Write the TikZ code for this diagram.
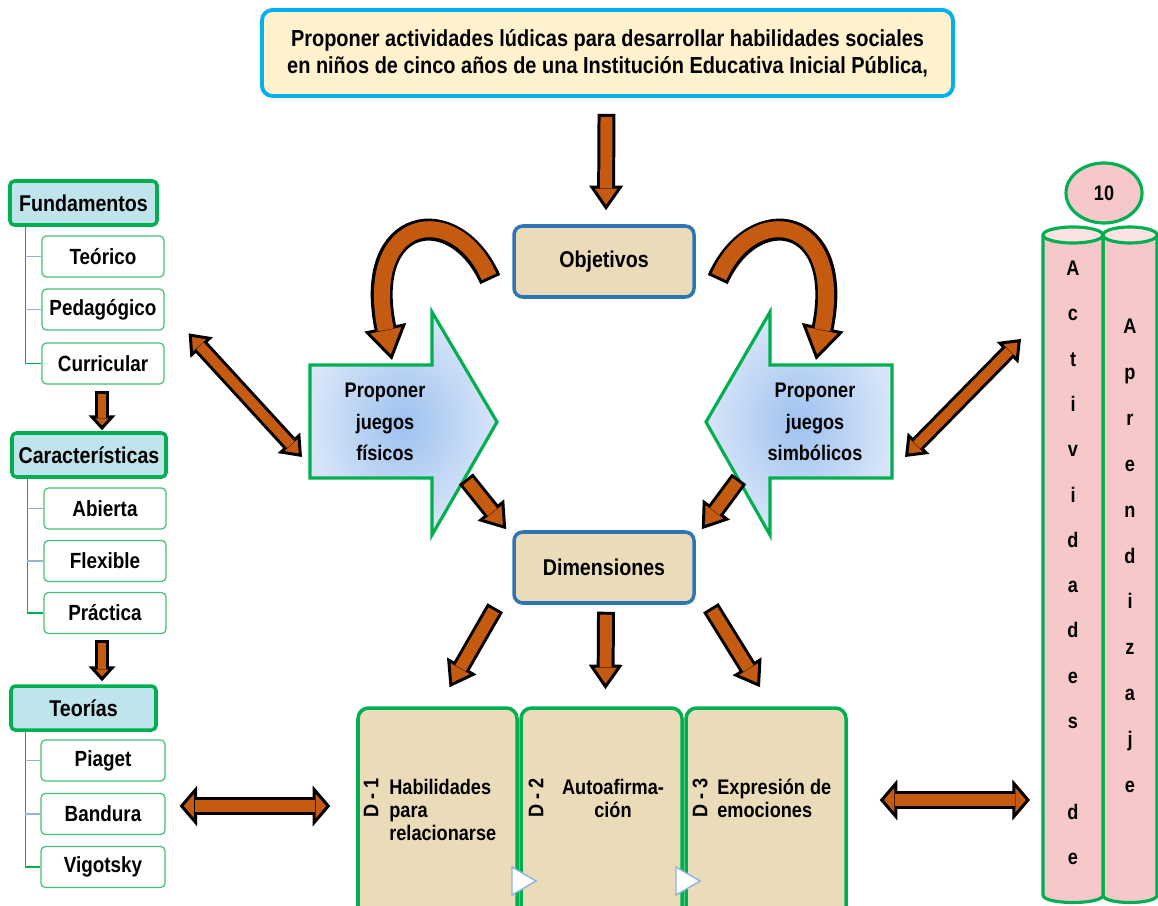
\documentclass[tikz,border=0pt]{standalone}
\usepackage{fontspec}
\setmainfont{Liberation Sans}[FakeStretch=0.86]
\usetikzlibrary{arrows.meta,calc,shapes.geometric}
\definecolor{brn}{RGB}{197,90,17}
\definecolor{grn}{RGB}{0,176,80}
\definecolor{grnl}{RGB}{70,192,120}
\definecolor{blu}{RGB}{46,117,182}
\definecolor{cyanb}{RGB}{0,176,240}
\definecolor{cream}{RGB}{255,242,204}
\definecolor{tanc}{RGB}{234,219,185}
\definecolor{aqua}{RGB}{192,228,236}
\definecolor{pinkc}{RGB}{247,200,202}
\definecolor{pinkl}{RGB}{252,226,226}
\definecolor{lbl}{RGB}{150,178,214}
\definecolor{bin}{RGB}{158,194,240}
\definecolor{bout}{RGB}{216,229,248}
\definecolor{trib}{RGB}{140,180,225}
\tikzset{
  wh/.style 2 args={minimum width={#1*0.02cm}, minimum height={#2*0.02cm}},
  titlebox/.style={draw=cyanb, line width=2.2pt, rounded corners=6pt, fill=cream, align=center,
    font=\bfseries\fontsize{13.2}{15.3}\selectfont},
  tanbox/.style={draw=blu, line width=2pt, rounded corners=5pt, fill=tanc,
    font=\bfseries\fontsize{13}{15}\selectfont},
  hdr/.style={draw=grn, line width=2pt, rounded corners=2.5pt, fill=aqua,
    font=\bfseries\fontsize{13}{15}\selectfont},
  itm/.style={draw=grnl, line width=0.7pt, rounded corners=2.5pt, fill=white,
    font=\bfseries\fontsize{12.5}{15}\selectfont},
  dbox/.style={draw=grn, line width=2pt, rounded corners=6pt, fill=tanc},
  dlab/.style={rotate=90, font=\bfseries\fontsize{12}{14}\selectfont, inner sep=0pt},
  dtxt/.style={font=\bfseries\fontsize{12}{13}\selectfont, inner sep=0pt},
  bigtxt/.style={align=center, font=\bfseries\fontsize{12}{17.9}\selectfont, inner sep=0pt},
  letr/.style={font=\bfseries\fontsize{12}{14}\selectfont, inner sep=0pt, text height=8.6pt, text depth=0pt},
  trunk/.style={draw=grn, line width=0.8pt},
  twig/.style={draw=lbl, line width=0.8pt},
  cylsty/.style={draw=grn, line width=1.8pt, fill=pinkc},
  trimark/.style={draw=trib, line width=0.8pt, fill=white, line join=miter},
  blk/.style n args={3}{draw=black, line width=#1,
    -{Triangle[width=#2,length=#3,line width=1.7pt,fill=brn]},
    postaction={draw=brn, line width=#1-3.4pt, -, shorten >=#3-1.5pt, shorten <=1.7pt}},
  dblk/.style n args={3}{draw=black, line width=#1,
    {Triangle[width=#2,length=#3,line width=1.7pt,fill=brn]}-{Triangle[width=#2,length=#3,line width=1.7pt,fill=brn]},
    postaction={draw=brn, line width=#1-3.4pt, -, shorten >=#3-1.5pt, shorten <=#3-1.5pt}},
}
\begin{document}
\begin{tikzpicture}[x=0.02cm,y=-0.02cm]
\path[use as bounding box, clip] (0,0) rectangle (1158,905);
\fill[white] (0,0) rectangle (1158,905);

% title and central boxes
\node[titlebox, wh={691}{86}] (title) at (607.5,53) {Proponer actividades lúdicas para desarrollar habilidades sociales\\en niños de cinco años de una Institución Educativa Inicial Pública,};
\node[tanbox, wh={180}{71}] (obj) at (604,261.5) {Objetivos};
\node[tanbox, wh={180}{71}] (dim) at (604,567.5) {Dimensiones};

% left column
\node[hdr, wh={147}{44}] (fund) at (83.5,203) {Fundamentos};
\node[hdr, wh={154}{44}] (car) at (89,455) {Características};
\node[hdr, wh={145}{44}] (teo) at (83.5,708) {Teorías};
\coordinate (ft) at ($(fund.south west)+(17,0)$);
\coordinate (ct) at ($(car.south west)+(17,0)$);
\coordinate (tt) at ($(teo.south west)+(16,0)$);
\node[itm, wh={122}{41}] (teor) at (103,256.5) {Teórico};
\node[itm, wh={122}{41}] (peda) at (103,309.5) {Pedagógico};
\node[itm, wh={122}{41}] (curr) at (103,363.5) {Curricular};
\node[itm, wh={122}{41}] (abi) at (105,508.5) {Abierta};
\node[itm, wh={122}{41}] (fle) at (105,561) {Flexible};
\node[itm, wh={122}{41}] (pra) at (105,613) {Práctica};
\node[itm, wh={124}{41}] (pia) at (103,760.5) {Piaget};
\node[itm, wh={124}{41}] (ban) at (103,814) {Bandura};
\node[itm, wh={124}{41}] (vig) at (103,867) {Vigotsky};
\draw[trunk] (ft) |- (curr.west);
\draw[twig] (ft |- teor.west) -- (teor.west);
\draw[twig] (ft |- peda.west) -- (peda.west);
\draw[trunk] (ct) |- (pra.west);
\draw[twig] (ct |- abi.west) -- (abi.west);
\draw[twig] (ct |- fle.west) -- (fle.west);
\draw[trunk] (tt) |- (vig.west);
\draw[twig] (tt |- pia.west) -- (pia.west);
\draw[twig] (tt |- ban.west) -- (ban.west);
\draw[blk={8.5pt}{15pt}{8.5pt}] ($(curr.south)+(-1,6)$) -- ($(curr.south |- car.north)+(-1,-1)$);
\draw[blk={8.5pt}{15pt}{8.5pt}] ($(pra.south)+(-3,6)$) -- ($(pra.south |- teo.north)+(-3,-3)$);

% big block arrows
\shadedraw[draw=grn, line width=1.8pt, line join=miter, inner color=bin, outer color=bout]
  (310,365) -- (432,365) -- (432,312) -- (497,422) -- (432,535) -- (432,478) -- (310,478) -- cycle;
\shadedraw[draw=grn, line width=1.8pt, line join=miter, inner color=bin, outer color=bout]
  (892,365) -- (770,365) -- (770,312) -- (706,422) -- (770,535) -- (770,478) -- (892,478) -- cycle;
\node[bigtxt] (fis) at (385,422) {Proponer\\juegos\\físicos};
\node[bigtxt] (sim) at (815,422) {Proponer\\juegos\\simbólicos};
\coordinate (fisIn) at (392,360);
\coordinate (simIn) at (816,360);
\coordinate (fisOut) at (466,479);
\coordinate (simOut) at (739,479);

% D boxes
\node[dbox, wh={159}{222}] (d1) at (437.5,819) {};
\node[dbox, wh={161}{222}] (d2) at (601.5,819) {};
\node[dbox, wh={160}{222}] (d3) at (766,819) {};
\node[dlab] (d1l) at (371,798) {D - 1};
\node[dtxt, align=left, anchor=west] (d1t) at (389,810) {Habilidades\\para\\relacionarse};
\node[dlab] (d2l) at (536,798) {D - 2};
\node[dtxt, align=center] (d2t) at (613,798.5) {Autoafirma-\\ción};
\node[dlab] (d3l) at (700,798) {D - 3};
\node[dtxt, align=left, anchor=west] (d3t) at (717,798.5) {Expresión de\\emociones};
\draw[trimark] (512,867) -- (536,881) -- (512,895) -- cycle;
\draw[trimark] (676,867) -- (700,881) -- (676,895) -- cycle;

% cylinders
\draw[cylsty] (1103,235) -- (1103,895) .. controls (1103,905) and (1157,905) .. (1157,895) -- (1157,235);
\draw[cylsty, fill=pinkl] (1130,235) ellipse [x radius=27, y radius=8];
\draw[cylsty] (1043,235) -- (1043,895) .. controls (1043,905) and (1103,905) .. (1103,895) -- (1103,235);
\draw[cylsty, fill=pinkl] (1073,235) ellipse [x radius=30, y radius=8];
\node[ellipse, draw=grn, line width=1.8pt, fill=pinkc, wh={76}{60}, font=\bfseries\fontsize{12}{14}\selectfont] (ten) at (1104,193) {10};
\foreach \l [count=\i from 0] in {A,c,t,i,v,i,d,a,d,e,s,{},d,e}
  \node[letr] (ca\i) at (1073,{268+45.3*\i}) {\l};
\foreach \l [count=\i from 0] in {A,p,r,e,n,d,i,z,a,j,e}
  \node[letr] (cb\i) at (1130,{326+45.9*\i}) {\l};
\coordinate (cylUp) at (1021,339);
\coordinate (cylLo) at (1030,800);

% connectors
\draw[blk={10.2pt}{19pt}{14pt}] ($(title.south)+(-1,16)$) -- ($(obj.north)+(2,-14)$);
\draw[blk={12.5pt}{24pt}{19pt}] ($(obj.west)+(-22,18)$) .. controls (455,200) and (362,215) .. (fisIn);
\draw[blk={12.5pt}{24pt}{19pt}] ($(obj.east)+(22,18)$) .. controls (753,200) and (846,215) .. (simIn);
\draw[blk={10.2pt}{19pt}{14pt}] (fisOut) -- ($(dim.north west)+(-6,-1)$);
\draw[blk={10.2pt}{19pt}{14pt}] (simOut) -- ($(dim.north east)+(6,-1)$);
\draw[blk={10.2pt}{19pt}{14pt}] ($(dim.south west)+(-17,3)$) -- ($(d1.north)+(12,-19)$);
\draw[blk={10.2pt}{19pt}{14pt}] ($(dim.south)+(2,7)$) -- ($(d2.north)+(4,-17)$);
\draw[blk={10.2pt}{19pt}{14pt}] ($(dim.south east)+(15,3)$) -- ($(d3.north)+(-6,-19)$);
\draw[dblk={9pt}{17pt}{11pt}] ($(curr.north east)+(24,-9)$) -- ($(fis)+(-83,35)$);
\draw[dblk={9pt}{17pt}{11pt}] ($(sim)+(90,35)$) -- (cylUp);
\draw[dblk={10pt}{23pt}{10pt}] ($(ban.east)+(14,-8)$) -- ($(d1.west)+(-26,-13)$);
\draw[dblk={10pt}{23pt}{10pt}] ($(d3.east)+(32,-19)$) -- (cylLo);
\end{tikzpicture}
\end{document}
